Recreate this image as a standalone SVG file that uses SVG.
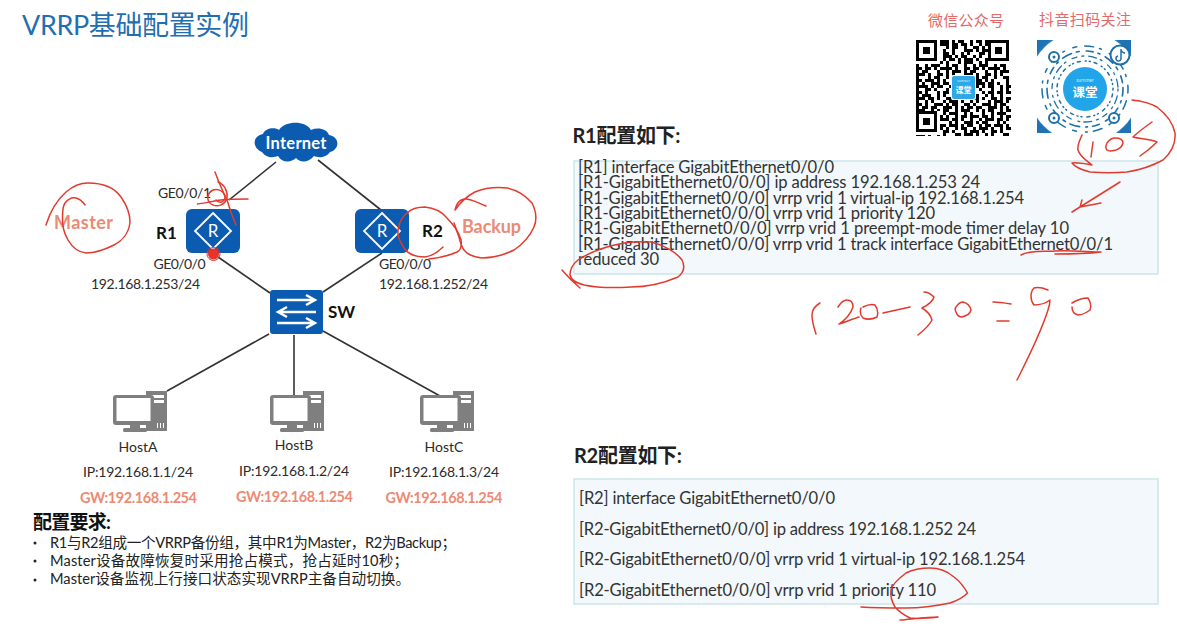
<svg xmlns="http://www.w3.org/2000/svg" width="1177" height="627" viewBox="0 0 1177 627">
<style>
text{font-family:"Lato","Noto Sans CJK SC",sans-serif;fill:#2b2b2b}
.title{font-size:27px;fill:#1f6fb2}
.lb{font-size:14px}
.b{font-weight:700;font-size:17px;fill:#111}
.or{font-weight:700;fill:#ec8a74;font-size:18px}
.gw{font-size:14.5px;font-weight:700;fill:#ec8a74}
.cfg{font-size:16.6px;fill:#333}
.hd{font-size:20px;font-weight:700;fill:#222}
.req{font-size:14.6px;fill:#222}
.qrt{font-family:"Liberation Serif","Noto Sans CJK SC",serif;font-size:15px;fill:#e46a6a}
.box{fill:#f2f8fb;stroke:#cbe6ec;stroke-width:1.5}
.link{stroke:#333;stroke-width:1.6;fill:none}
.ink{fill:none;stroke:#e23a2e;stroke-width:1.5;stroke-linecap:round;stroke-linejoin:round}
.dev{fill:#0b5cb0}
.wl{fill:none;stroke:#fff;stroke-width:1.8}
.pc{fill:#7f7f7f}
.q{stroke:#000;stroke-width:3;fill:none}
.d{fill:none;stroke:#1f6fa8;stroke-linecap:round}
</style>
<defs>
<g id="router"><rect width="54" height="44" rx="6" class="dev"/><path d="M27 4 45 22 27 40 9 22Z" class="wl"/><text x="27" y="28" text-anchor="middle" style="font-size:17px;fill:#fff">R</text></g>
<g id="pc"><path class="pc" d="M33 0H54V40H33ZM36 4V7H51V4ZM36 9V12H51V9ZM44 32V37H45V32ZM47 32V37H48V32ZM50 32V37H51V32Z" fill-rule="evenodd"/><rect x="0" y="4" width="41" height="30" rx="3" class="pc"/><rect x="3.500" y="7" width="34" height="23" fill="#fff"/><rect x="10" y="37" width="24" height="4" rx="1.500" class="pc"/><rect x="17" y="34" width="10" height="3" class="pc"/></g>
</defs>
<rect width="1177" height="627" fill="#fff"/>
<text class="title" x="22" y="35" textLength="227">VRRP基础配置实例</text>

<g id="connectors">
<path class="link" d="M276 162 229 200"/><path class="link" d="M318 160 381 210"/>
<path class="link" d="M218 257 270 293"/><path class="link" d="M382 253 323 292"/>
<path class="link" d="M269 334 167 391"/><path class="link" d="M294 335V395"/><path class="link" d="M323 331 440 396"/>
</g>

<g id="internet">
<path class="dev" d="M262 152C252 148 252 136 263 134 265 128 275 127 279 130 285 121 305 120 311 130 318 127 327 129 329 135 340 137 340 149 330 152 326 158 318 158 314 156 308 163 300 163 296 158 291 163 282 163 278 156 273 158 266 158 262 152Z"/>
<text x="296" y="149" text-anchor="middle" textLength="61" style="font-size:16.500px;font-weight:700;fill:#fff">Internet</text>
</g>
<g id="r1"><use href="#router" x="186" y="209"/><text class="b" x="156" y="239">R1</text>
<text class="lb" x="158" y="198" textLength="53">GE0/0/1</text><text class="lb" x="153.500" y="269" textLength="52">GE0/0/0</text><text class="lb" x="91" y="289" textLength="109">192.168.1.253/24</text>
<text class="or" x="54" y="229" textLength="59">Master</text></g>
<g id="r2"><use href="#router" x="355" y="209"/><text class="b" x="422" y="237">R2</text>
<text class="lb" x="379" y="269" textLength="52">GE0/0/0</text><text class="lb" x="379" y="289" textLength="109">192.168.1.252/24</text>
<text class="or" x="462" y="233" textLength="59">Backup</text></g>
<g id="sw"><rect x="270" y="290" width="53" height="44" rx="3" class="dev"/>
<path d="M277 300H314M306 295 315 300 306 305M316 312H279M287 307 278 312 287 317M277 323H314M306 318 315 323 306 328" fill="none" stroke="#fff" stroke-width="2.400"/>
<text class="b" x="328" y="318">SW</text></g>
<g id="hostA"><use href="#pc" x="113" y="391"/><text class="lb" x="138" y="452" text-anchor="middle">HostA</text><text class="lb" x="138" y="477" text-anchor="middle" textLength="110">IP:192.168.1.1/24</text><text class="gw" x="138.500" y="503" text-anchor="middle" textLength="117">GW:192.168.1.254</text></g>
<g id="hostB"><use href="#pc" x="270" y="391"/><text class="lb" x="294" y="450" text-anchor="middle">HostB</text><text class="lb" x="294" y="476" text-anchor="middle" textLength="110">IP:192.168.1.2/24</text><text class="gw" x="294.500" y="502" text-anchor="middle" textLength="117">GW:192.168.1.254</text></g>
<g id="hostC"><use href="#pc" x="420" y="391"/><text class="lb" x="444" y="452" text-anchor="middle">HostC</text><text class="lb" x="444" y="477" text-anchor="middle" textLength="110">IP:192.168.1.3/24</text><text class="gw" x="444" y="503" text-anchor="middle" textLength="117">GW:192.168.1.254</text></g>

<g id="requirements">
<text x="33" y="529" textLength="78" style="font-size:19px;font-weight:700;fill:#111">配置要求:</text>
<circle cx="35" cy="543" r="1.500" fill="#222"/><circle cx="35" cy="561" r="1.500" fill="#222"/><circle cx="35" cy="580" r="1.500" fill="#222"/>
<text class="req" x="50" y="548" textLength="406">R1与R2组成一个VRRP备份组，其中R1为Master，R2为Backup；</text>
<text class="req" x="50" y="566" textLength="358">Master设备故障恢复时采用抢占模式，抢占延时10秒；</text>
<text class="req" x="50" y="584" textLength="360">Master设备监视上行接口状态实现VRRP主备自动切换。</text>
</g>

<g id="r1-config">
<text class="hd" x="572.500" y="143" textLength="108">R1配置如下:</text>
<rect class="box" x="574" y="161" width="584" height="113"/>
<text class="cfg" x="578" y="173" textLength="256">[R1] interface GigabitEthernet0/0/0</text>
<text class="cfg" x="578" y="188" textLength="402">[R1-GigabitEthernet0/0/0] ip address 192.168.1.253  24</text>
<text class="cfg" x="578" y="204" textLength="446">[R1-GigabitEthernet0/0/0] vrrp vrid 1 virtual-ip 192.168.1.254</text>
<text class="cfg" x="578" y="219" textLength="357">[R1-GigabitEthernet0/0/0] vrrp vrid 1 priority 120</text>
<text class="cfg" x="578" y="234" textLength="491">[R1-GigabitEthernet0/0/0] vrrp vrid 1 preempt-mode timer delay 10</text>
<text class="cfg" x="578" y="250" textLength="535">[R1-GigabitEthernet0/0/0] vrrp vrid 1 track interface GigabitEthernet0/0/1</text>
<text class="cfg" x="578" y="265" textLength="81">reduced 30</text>
</g>
<g id="r2-config">
<text class="hd" x="574" y="463" textLength="108">R2配置如下:</text>
<rect class="box" x="574" y="479" width="584" height="125"/>
<text class="cfg" x="579" y="504" textLength="256">[R2] interface GigabitEthernet0/0/0</text>
<text class="cfg" x="579" y="535" textLength="397">[R2-GigabitEthernet0/0/0] ip address 192.168.1.252 24</text>
<text class="cfg" x="579" y="565" textLength="446">[R2-GigabitEthernet0/0/0] vrrp vrid 1 virtual-ip 192.168.1.254</text>
<text class="cfg" x="579" y="596" textLength="357">[R2-GigabitEthernet0/0/0] vrrp vrid 1 priority 110</text>
</g>

<g id="qr-wechat">
<text class="qrt" x="928" y="26" textLength="76">微信公众号</text>
<g class="q">
<path d="M916 41.500H1011" stroke-dasharray="3 3 6 3 3 6 9 3 3 3 6 6"/><path d="M916 44.500H1011" stroke-dasharray="6 3 3 6 3 3 9 3 6 3"/><path d="M916 47.500H1011" stroke-dasharray="3 6 6 3 3 9 3 3 6 6"/><path d="M916 50.500H1011" stroke-dasharray="9 3 3 3 6 3 3 6 3 9"/><path d="M916 53.500H1011" stroke-dasharray="3 3 3 9 6 3 6 3 3 6"/><path d="M916 56.500H1011" stroke-dasharray="6 6 3 3 3 6 9 3 3 3"/>
<path d="M916 59.500H1011" stroke-dasharray="3 3 9 3 3 6 3 3 6 3"/><path d="M916 62.500H1011" stroke-dasharray="9 6 3 3 6 3 3 9 3 3"/><path d="M916 65.500H1011" stroke-dasharray="3 6 3 3 9 6 3 3 6 6"/><path d="M916 68.500H1011" stroke-dasharray="6 3 6 3 3 3 12 3 3 6"/><path d="M916 71.500H1011" stroke-dasharray="3 3 6 9 3 6 3 3 9 3"/><path d="M916 74.500H1011" stroke-dasharray="9 3 3 6 6 3 3 3 3 9"/>
<path d="M916 77.500H1011" stroke-dasharray="3 9 3 3 6 6 3 6 6 3"/><path d="M916 80.500H1011" stroke-dasharray="6 3 9 3 3 3 3 12 3 3"/><path d="M916 83.500H1011" stroke-dasharray="3 3 3 6 9 3 6 3 3 6"/><path d="M916 86.500H1011" stroke-dasharray="12 3 3 3 6 6 3 3 9 3"/><path d="M916 89.500H1011" stroke-dasharray="3 6 6 3 3 9 3 6 3 3"/><path d="M916 92.500H1011" stroke-dasharray="6 3 3 9 3 3 6 3 6 3"/>
<path d="M916 95.500H1011" stroke-dasharray="3 3 9 6 3 3 3 6 3 9"/><path d="M916 98.500H1011" stroke-dasharray="9 3 6 3 3 6 6 3 3 3"/><path d="M916 101.500H1011" stroke-dasharray="3 6 3 3 3 9 3 3 9 3"/><path d="M916 104.500H1011" stroke-dasharray="6 3 3 6 9 3 3 3 6 6"/><path d="M916 107.500H1011" stroke-dasharray="3 3 6 3 6 6 9 3 3 3"/><path d="M916 110.500H1011" stroke-dasharray="9 6 3 3 3 3 6 6 3 3"/>
<path d="M916 113.500H1011" stroke-dasharray="3 3 3 9 3 6 3 3 9 6"/><path d="M916 116.500H1011" stroke-dasharray="6 3 9 3 6 3 3 6 3 3"/><path d="M916 119.500H1011" stroke-dasharray="3 6 3 6 3 3 9 3 6 3"/><path d="M916 122.500H1011" stroke-dasharray="9 3 3 3 6 9 3 3 3 6"/><path d="M916 125.500H1011" stroke-dasharray="3 3 6 6 3 3 6 3 9 3"/><path d="M916 128.500H1011" stroke-dasharray="6 6 3 3 9 3 3 6 3 3"/><path d="M916 131.500H1011" stroke-dasharray="3 3 9 3 3 6 6 3 3 9"/><path d="M916 134.500H1011" stroke-dasharray="9 3 3 6 3 3 3 9 6 3"/>
</g>
<g fill="#fff"><rect x="916" y="40" width="24" height="24"/><rect x="988" y="40" width="24" height="24"/><rect x="916" y="111" width="24" height="24"/></g>
<g fill="none" stroke="#000" stroke-width="3"><rect x="917.500" y="41.500" width="18" height="18"/><rect x="989.500" y="41.500" width="18" height="18"/><rect x="917.500" y="112.500" width="18" height="18"/></g>
<rect x="923" y="47" width="7" height="7"/><rect x="995" y="47" width="7" height="7"/><rect x="923" y="118" width="7" height="7"/>
<rect x="951" y="75" width="25" height="25" rx="2" fill="#fff"/><rect x="952" y="76" width="23" height="23" rx="2" fill="#2fa8e8"/>
<text x="963.500" y="82" text-anchor="middle" style="font-size:3.500px;fill:#d5eefb">summer</text>
<text x="963.500" y="93" text-anchor="middle" style="font-size:8px;font-weight:700;fill:#fff">课堂</text>
</g>

<g id="qr-douyin">
<text class="qrt" x="1039" y="25" textLength="92">抖音扫码关注</text>
<rect x="1037" y="40" width="94" height="93" fill="#2a7fc0"/>
<circle cx="1084" cy="87" r="56" fill="#fff"/>
<path d="M1037 53V40H1050ZM1118 40H1131V53ZM1131 120V133H1118ZM1050 133H1037V120Z" fill="#1f72b4"/>
<circle class="d" cx="1085" cy="89" r="38" stroke-width="1.600" stroke-dasharray="7 5 2 6 10 5 3 7"/>
<circle class="d" cx="1085" cy="89" r="33" stroke-width="1.300" stroke-dasharray="2 5 8 4 2 7 5 5"/>
<circle class="d" cx="1085" cy="89" r="28" stroke-width="1.500" stroke-dasharray="1 4 3 5 1 3"/>
<circle class="d" cx="1085" cy="89" r="43" stroke-width="1.500" stroke-dasharray="4 8 9 6 2 9"/>
<circle cx="1085" cy="89" r="22" fill="#22a5e8"/>
<text x="1085" y="82" text-anchor="middle" style="font-size:5px;fill:#cfeafa">summer</text>
<text x="1085" y="97" text-anchor="middle" style="font-size:12.500px;font-weight:700;fill:#fff">课堂</text>
<g fill="#fff" stroke="#1f6fa8" stroke-width="2"><circle cx="1054" cy="57" r="5"/><circle cx="1054" cy="118" r="5"/><circle cx="1114" cy="118" r="5"/><circle cx="1120" cy="55" r="9.500"/></g>
<circle cx="1054" cy="57" r="1.500" fill="#1f6fa8"/><circle cx="1054" cy="118" r="1.500" fill="#1f6fa8"/><circle cx="1114" cy="118" r="1.500" fill="#1f6fa8"/>
<path d="M1121 49V58.500A2.500 2.500 0 1 1 1118 56M1121 50C1122 52 1123 53 1125 53" fill="none" stroke="#1f6fa8" stroke-width="1.500"/>
</g>

<g id="annotations">
<path class="ink" d="M46 225C50 212 57 200 66 192 74 185 80 183 88 183 103 183 114 187 121 197 128 207 130 214 130 222 129 233 122 241 114 245 104 250 95 253 86 253 78 252 72 247 68 240 64 233 62 225 62.500 217 62.500 210 63 206 65 203 69 198 72 197 76 198 80 199 83 202 85 205"/>
<path class="ink" d="M443 247C438 252 432 256 425 257 416 257 408 254 404 248 400 242 397 236 398 230 399 223 402 217 407 213 412 208 418 207 425 207 434 208 441 211 446 217 453 224 459 232 461 240 462 246 461 250 457 252 448 256 438 258 429 259"/>
<path class="ink" d="M486 206C478 203 470 198 464 199 459 200 456 205 455 210 460 203 467 196 475 192 485 188 497 187 507 188 517 190 526 196 532 203 536 211 537 220 534 227 530 236 523 244 514 250 504 255 493 258 482 258 474 257 467 254 464 250 461 246 460 241 459 237 457 232 456 228 454 223"/>
<path class="ink" d="M215 172C218 180 222 190 227 200 230 210 233 218 236 225M197.500 204C205 203 213 201 221 200 230 199 239 199 248 199"/>
<path class="ink" d="M218 182C224 184 228 191 227 198 225 205 217 208 211 204 206 200 207 193 213 190 219 188 225 192 225 198 224 202 220 204 216 200"/>
<circle cx="213.500" cy="254" r="5.500" fill="#e8322a"/><circle cx="213.500" cy="254" r="6.500" fill="none" stroke="#e8322a"/>
<path class="ink" d="M1093 142 1091 157M1107 143C1110 139 1113 138 1115 138 1120 138 1123 140 1123 143 1122 147 1119 149 1116 150 1112 151 1108 151 1107 150 1105 148 1106 145 1107 143M1152 122C1145 127 1138 132 1133 137 1140 139 1150 139 1157 142 1152 147 1146 152 1140 156"/>
<path class="ink" d="M1132 100C1141 101 1150 103 1157 107 1166 114 1173 123 1175 133 1176 144 1171 153 1163 160 1152 166 1140 170 1127 172 1115 173 1102 173 1090 172 1082 170 1075 167 1072 163 1078 162 1086 164 1092 165 1086 160 1080 157 1078 150 1077 145 1080 140 1082 135"/>
<path class="ink" d="M1120 182 1072 212M1082 200 1080 207 1101 203"/>
<path class="ink" d="M1021 255C1030 250 1045 252 1055 251 1070 250 1090 252 1101 252 1085 254 1070 254 1055 254"/>
<path class="ink" d="M607 247C620 243 636 241 651 242 664 245 676 252 682 260 686 268 683 273 678 277 664 283 648 287 631 287 615 288 598 288 584 285 576 283 571 280 570 275 570 269 573 264 578 260 587 254 597 250 607 247M562 270C568 277 574 283 580 288"/>
<path class="ink" d="M820 303C815 306 812 310 812 315 812 322 814 328 816 334M838 307C841 302 844 300 847 300 851 300 853 303 853 307 851 313 845 320 839 324 845 322 853 319 859 317M863 307C867 305 872 304 875 305 878 309 878 314 877 317 873 319 868 320 863 318 860 315 860 311 861 308M883 313C892 311 901 309 910 307M924 292C928 292 931 294 934 297 933 301 928 305 922 308 927 311 931 316 932 320 929 326 923 331 918 335M956 307C958 304 960 302 963 302 967 303 970 306 971 310 970 314 966 316 962 317 959 317 957 315 956 312 955 310 955 308 956 307M993 302C999 302 1005 303 1011 304M997 321H1009M1048 290C1043 288 1038 287 1034 288 1030 292 1030 300 1034 305 1040 305 1046 303 1050 300 1050 304 1049 307 1048 310 1040 335 1028 358 1017 380M1072 303C1077 300 1083 298 1088 298 1091 302 1091 307 1090 310 1086 313 1082 315 1078 315 1074 314 1072 311 1072 307"/>
<path class="ink" d="M967.500 593C963 585 958 580 954 577 947 571 938 568 930 568 921 568 912 570 906 573 898 579 892 585 891 590 890 597 892 602 895 607 899 612 904 615 910 618 918 619 930 618 938 617 928 617 912 619 900 620M967.500 593C962 599 956 601 950 603 936 606 921 608 906 608 891 608 876 608 861 607"/>
</g>
</svg>
